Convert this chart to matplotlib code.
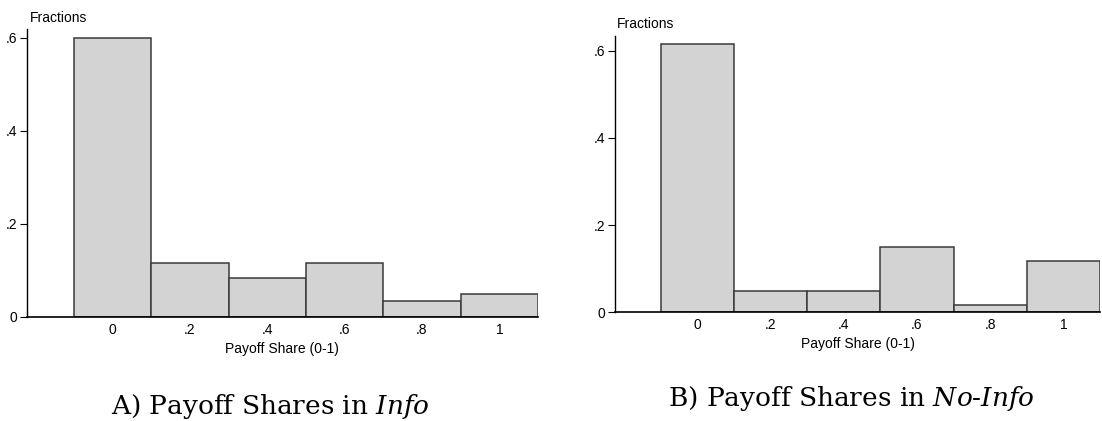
import matplotlib
matplotlib.use("Agg")
import matplotlib.pyplot as plt

# Data
bins = [0, 0.2, 0.4, 0.6, 0.8, 1.0]
tick_labels = ["0", ".2", ".4", ".6", ".8", "1"]
info_fractions = [36/60, 7/60, 5/60, 7/60, 2/60, 3/60]
noinfo_fractions = [37/60, 3/60, 3/60, 9/60, 1/60, 7/60]
ytick_vals = [0, 0.2, 0.4, 0.6]
ytick_labels = ["0", ".2", ".4", ".6"]

plt.rcParams['font.family'] = ['Liberation Sans', 'DejaVu Sans']
plt.rcParams['mathtext.fontset'] = 'custom'
plt.rcParams['mathtext.rm'] = 'DejaVu Serif'
plt.rcParams['mathtext.it'] = 'DejaVu Serif:italic'

W, H = 1102, 421
fig = plt.figure(figsize=(W/100, H/100), dpi=100)

def px_axes(x0, x1, ybot, ytop):
    return fig.add_axes([x0/W, (H-ybot)/H, (x1-x0)/W, (ybot-ytop)/H])

def draw(ax, vals, xmin, ymax):
    ax.bar(bins, vals, width=0.2, color='#d3d3d3', edgecolor='#3a3a3a', linewidth=1.1, align='center')
    ax.set_xlim(xmin, 1.1)
    ax.set_ylim(0, ymax)
    for s in ['top', 'right']:
        ax.spines[s].set_visible(False)
    ax.spines['left'].set_linewidth(1.0)
    ax.spines['bottom'].set_linewidth(1.2)
    ax.set_xticks(bins)
    ax.set_xticklabels(tick_labels, fontsize=10)
    ax.tick_params(axis='x', length=0, pad=4)
    ax.set_yticks(ytick_vals)
    ax.set_yticklabels(ytick_labels, fontsize=10)
    ax.tick_params(axis='y', length=5, width=0.8, pad=2)
    ax.set_xlabel("Payoff Share (0-1)", fontsize=10, labelpad=4)

ax1 = px_axes(26.7, 538, 317, 29)
draw(ax1, info_fractions, -0.222, 0.619)
fig.text(30/W, 1 - 18/H, "Fractions", fontsize=10, va='center', ha='left')

ax2 = px_axes(615, 1100, 312.3, 36)
draw(ax2, noinfo_fractions, -0.225, 0.634)
fig.text(617/W, 1 - 24/H, "Fractions", fontsize=10, va='center', ha='left')

fig.text(270/W, 1 - 414/H, r"A) Payoff Shares in $\mathit{Info}$", fontsize=19,
         family='DejaVu Serif', ha='center', va='baseline')
fig.text(851/W, 1 - 406/H, r"B) Payoff Shares in $\mathit{No}$-$\mathit{Info}$", fontsize=19,
         family='DejaVu Serif', ha='center', va='baseline')

fig.savefig("out.png", dpi=100)
